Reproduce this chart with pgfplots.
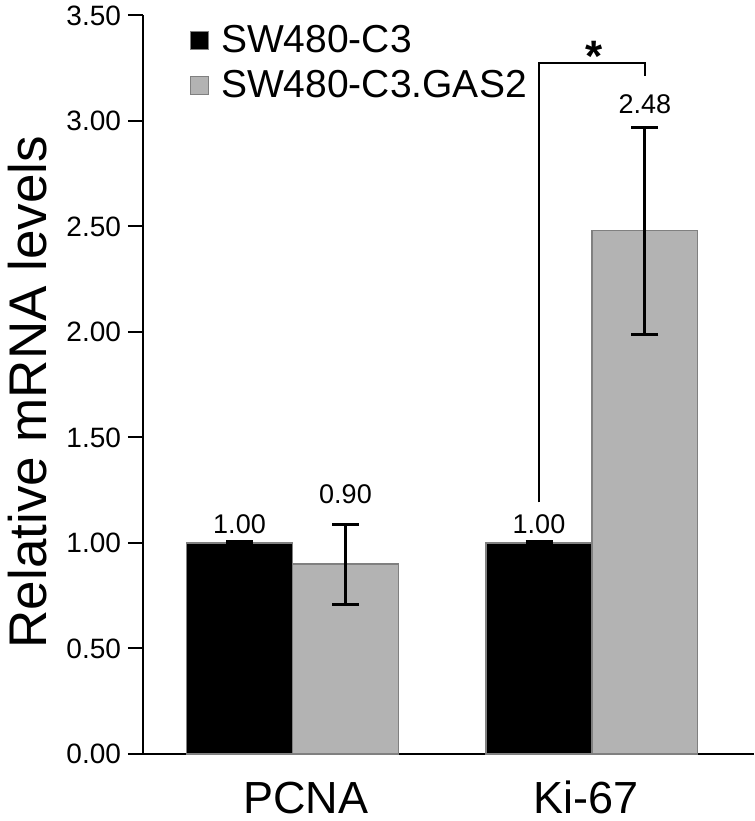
\documentclass[border=0pt]{standalone}
\usepackage{fontspec}
\setmainfont{Liberation Sans}
\usepackage{pgfplots}
\pgfplotsset{compat=1.18}
\definecolor{bargray}{RGB}{179,179,179}
\definecolor{edgegray}{RGB}{128,128,128}
\begin{document}
\begin{tikzpicture}
\begin{axis}[
  scale only axis, width=305.5pt, height=369.25pt,
  xmin=0, xmax=2.0367, ymin=0, ymax=3.5,
  clip=false,
  axis lines=left,
  axis line style={-, line width=1pt, black},
  tick align=outside,
  major tick length=7.5pt,
  ytick={0,0.5,1,1.5,2,2.5,3,3.5},
  y tick style={line width=1pt, black},
  yticklabel style={font=\fontsize{14}{14}\selectfont,
    /pgf/number format/.cd, fixed, fixed zerofill, precision=2, assume math mode=true},
  xtick={0.543,1.478},
  xticklabels={PCNA,Ki-67},
  x tick style={draw=none},
  xticklabel style={font=\fontsize{22.5}{22.5}\selectfont, anchor=base, yshift=-22pt},
  extra x ticks={0,1,2},
  extra x tick labels={},
  extra x tick style={major tick length=2.5pt, tick style={draw=gray, line width=0.5pt}},
  ylabel={Relative mRNA levels},
  ylabel style={font=\fontsize{26.5}{26.5}\selectfont, at={(axis description cs:-0.158,0.49)}, anchor=base},
  legend style={at={(axis cs:0.155,3.474)}, anchor=north west, draw=none, fill=none,
    font=\fontsize{19.5}{21}\selectfont, inner sep=0pt, row sep=3.5pt},
  legend cell align=left,
]
\addplot[ybar, bar width=0.353, bar shift=0pt, fill=black, draw=edgegray, line width=0.6pt,
  legend image code/.code={\draw[fill=black, draw=edgegray, line width=0.6pt] (0pt,-4.5pt) rectangle (9pt,4.5pt); \path (13pt,0pt);},
  error bars/.cd, y dir=both, y explicit,
  error bar style={line width=1.5pt, black, solid},
  error mark options={rotate=90, line width=1.5pt, mark size=6.75pt, black}]
  coordinates {(0.3217,1.00) +- (0,0.006) (1.32,1.00) +- (0,0.006)};
\addlegendentry{SW480-C3}
\addplot[ybar, bar width=0.353, bar shift=0pt, fill=bargray, draw=edgegray, line width=0.6pt,
  legend image code/.code={\draw[fill=bargray, draw=edgegray, line width=0.6pt] (0pt,-4.5pt) rectangle (9pt,4.5pt); \path (13pt,0pt);},
  error bars/.cd, y dir=both, y explicit,
  error bar style={line width=1.5pt, black, solid},
  error mark options={rotate=90, line width=1.5pt, mark size=6.75pt, black}]
  coordinates {(0.675,0.90) +- (0,0.19) (1.673,2.48) +- (0,0.49)};
\addlegendentry{SW480-C3.GAS2}
\node[anchor=base, font=\fontsize{13.5}{13.5}\selectfont] at (axis cs:0.3217,1.045) {1.00};
\node[anchor=base, font=\fontsize{13.5}{13.5}\selectfont] at (axis cs:1.32,1.045) {1.00};
\node[anchor=base, font=\fontsize{13.5}{13.5}\selectfont] at (axis cs:0.675,1.187) {0.90};
\node[anchor=base, font=\fontsize{13.5}{13.5}\selectfont] at (axis cs:1.673,3.037) {2.48};
\draw[line width=1pt] (axis cs:1.32,1.192) |- (axis cs:1.673,3.273) -- (axis cs:1.673,3.212);
\node[anchor=base, font=\fontsize{22}{22}\selectfont\bfseries] at (axis cs:1.503,3.235) {*};
\coordinate (SW) at (rel axis cs:0,0);
\coordinate (NE) at (rel axis cs:1,1);
\end{axis}
\pgfresetboundingbox
\path (SW) ++(-71.5pt,-33.5pt) coordinate (BL);
\path (NE) ++(0pt,7.75pt) coordinate (TR);
\useasboundingbox (BL) rectangle (TR);
\end{tikzpicture}
\end{document}
